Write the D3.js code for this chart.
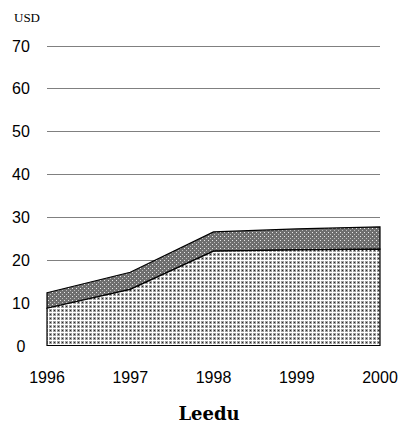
<!DOCTYPE html>
<html><head><meta charset="utf-8">
<script src="https://cdn.jsdelivr.net/npm/d3@7"></script>
<style>body{margin:0;background:#fff}</style>
</head><body>
<svg id="c" width="401" height="423"></svg>
<script>
const years = [1996, 1997, 1998, 1999, 2000];
const lower = [8.7, 13.1, 22.0, 22.3, 22.5];
const upper = [12.3, 17.1, 26.5, 27.2, 27.7];
const yTicks = [0, 10, 20, 30, 40, 50, 60, 70];
const unitLabel = "USD";
const title = "Leedu";

const svg = d3.select("#c");
const x = d3.scaleLinear().domain([1996, 2000]).range([47, 380]);
const y = d3.scaleLinear().domain([0, 70]).range([345.5, 45.5]);

const defs = svg.append("defs");
const p1 = defs.append("pattern").attr("id","pLow").attr("width",4).attr("height",4).attr("patternUnits","userSpaceOnUse");
p1.append("rect").attr("width",4).attr("height",4).attr("fill","#fff");
p1.append("rect").attr("x",1).attr("y",1).attr("width",3).attr("height",3).attr("fill","#a0a0a0");
p1.append("rect").attr("x",2).attr("y",2).attr("width",1).attr("height",1).attr("fill","#2a2a2a");
const p2 = defs.append("pattern").attr("id","pUp").attr("width",4).attr("height",4).attr("patternUnits","userSpaceOnUse");
p2.append("rect").attr("width",4).attr("height",4).attr("fill","#6e6e6e");
p2.append("rect").attr("x",0).attr("y",0).attr("width",1).attr("height",1).attr("fill","#e8e8e8");
p2.append("rect").attr("x",2).attr("y",2).attr("width",1).attr("height",1).attr("fill","#bdbdbd");

// gridlines
svg.append("g").selectAll("line").data(yTicks.filter(d=>d>0)).join("line")
  .attr("x1", x(1996)).attr("x2", x(2000))
  .attr("y1", d=>Math.round(y(d))+0.5).attr("y2", d=>Math.round(y(d))+0.5)
  .attr("stroke","#808080").attr("stroke-width",1);

const data = years.map((yr,i)=>({yr, lo: lower[i], up: upper[i]}));
const areaUp = d3.area().x(d=>x(d.yr)).y0(d=>y(d.lo)).y1(d=>y(d.up));
const areaLo = d3.area().x(d=>x(d.yr)).y0(y(0)).y1(d=>y(d.lo));
svg.append("path").datum(data).attr("d", areaUp).attr("fill","url(#pUp)").attr("stroke","#000").attr("stroke-width",1.2);
svg.append("path").datum(data).attr("d", areaLo).attr("fill","url(#pLow)").attr("stroke","#000").attr("stroke-width",1.2);

// y labels
svg.append("g").selectAll("text").data(yTicks).join("text")
  .attr("x", 21).attr("y", d=>y(d)+6)
  .attr("text-anchor","middle").attr("font-family","'Liberation Sans', Arial, sans-serif")
  .attr("font-size",16).attr("fill","#000").text(d=>d);

// x labels
svg.append("g").selectAll("text").data(years).join("text")
  .attr("x", d=>x(d)).attr("y", 383)
  .attr("text-anchor","middle").attr("font-family","'Liberation Sans', Arial, sans-serif")
  .attr("font-size",16).attr("fill","#000").text(d=>d);

svg.append("text").attr("x",14).attr("y",22).attr("font-family","'Liberation Serif', 'Times New Roman', serif")
  .attr("font-size",13).attr("fill","#000").text(unitLabel);

svg.append("text").attr("x",209).attr("y",420).attr("text-anchor","middle")
  .attr("font-family","'DejaVu Serif', serif").attr("font-weight","bold")
  .attr("font-size",18).attr("fill","#000").text(title);
</script>
</body></html>
